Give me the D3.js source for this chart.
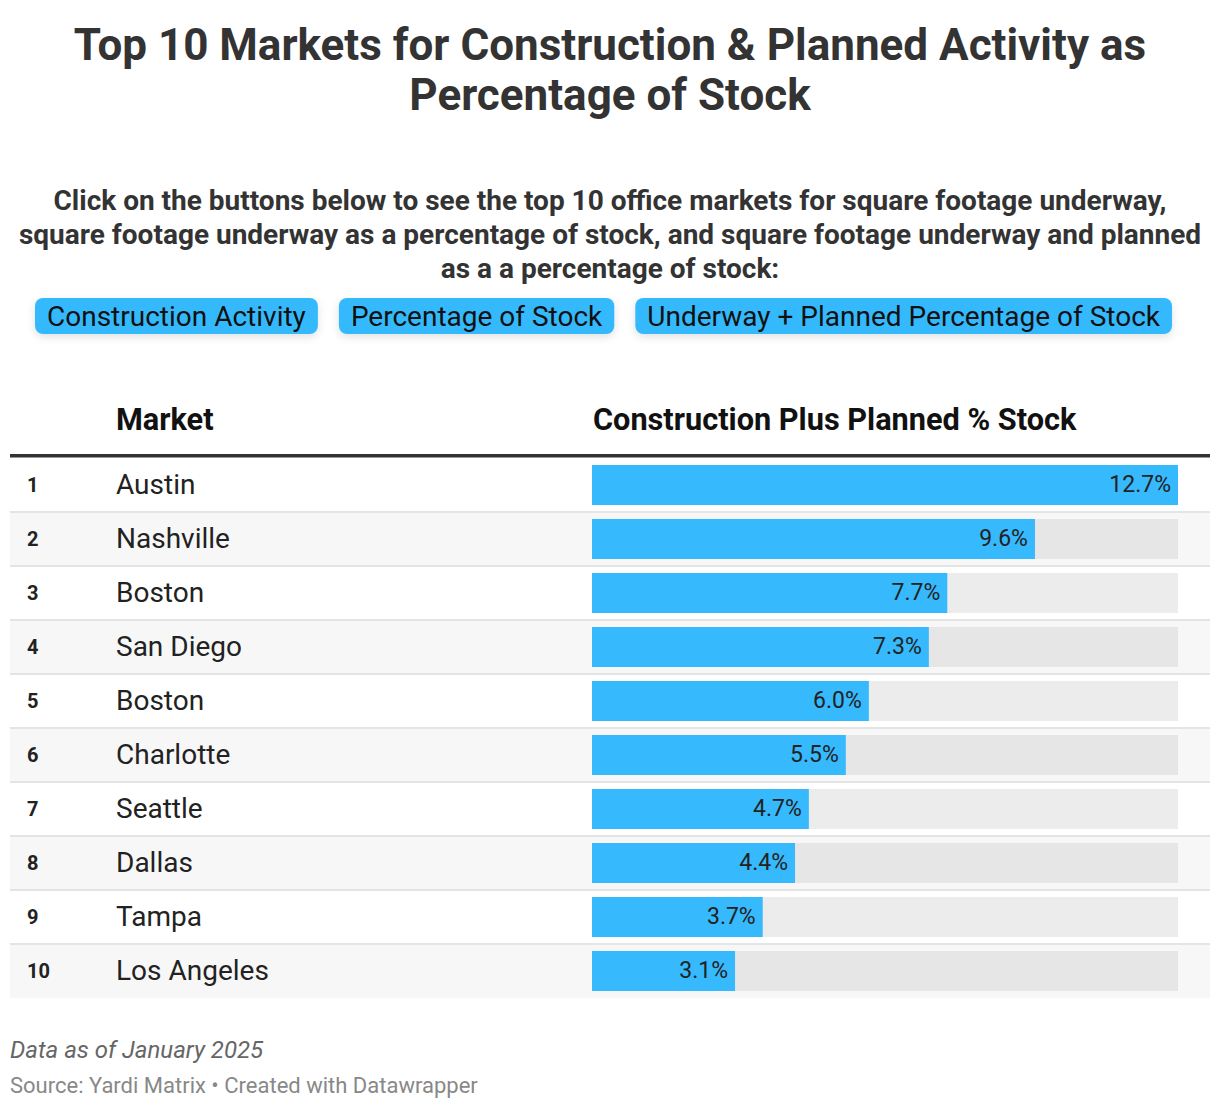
<!DOCTYPE html>
<html>
<head>
<meta charset="utf-8">
<script src="https://cdn.jsdelivr.net/npm/d3@7"></script>
<style>
  body { margin: 0; background: #fff; font-family: Roboto, "Noto Sans", sans-serif; }
</style>
</head>
<body>
<div id="chart"></div>
<script>
var ranks = [1, 2, 3, 4, 5, 6, 7, 8, 9, 10];
var markets = ["Austin", "Nashville", "Boston", "San Diego", "Boston", "Charlotte", "Seattle", "Dallas", "Tampa", "Los Angeles"];
var values = [12.7, 9.6, 7.7, 7.3, 6.0, 5.5, 4.7, 4.4, 3.7, 3.1];
var buttons = ["Construction Activity", "Percentage of Stock", "Underway + Planned Percentage of Stock"];
var titleLines = ["Top 10 Markets for Construction & Planned Activity as", "Percentage of Stock"];
var descLines = [
  "Click on the buttons below to see the top 10 office markets for square footage underway,",
  "square footage underway as a percentage of stock, and square footage underway and planned",
  "as a a percentage of stock:"
];

var W = 1220, H = 1110;
var svg = d3.select("#chart").append("svg").attr("width", W).attr("height", H);

var defs = svg.append("defs");
var f = defs.append("filter").attr("id", "shadow").attr("x", "-10%").attr("y", "-40%").attr("width", "120%").attr("height", "200%");
f.append("feDropShadow").attr("dx", 0).attr("dy", 3).attr("stdDeviation", 4).attr("flood-color", "#000").attr("flood-opacity", 0.12);

// title
svg.selectAll("text.title").data(titleLines).enter().append("text")
  .attr("class", "title")
  .attr("x", W / 2).attr("y", function (d, i) { return 60 + i * 50; })
  .attr("text-anchor", "middle")
  .attr("font-size", 44).attr("font-weight", 700).attr("fill", "#333")
  .text(function (d) { return d; });

svg.selectAll("text.desc").data(descLines).enter().append("text")
  .attr("class", "desc")
  .attr("x", W / 2).attr("y", function (d, i) { return 210 + i * 34; })
  .attr("text-anchor", "middle")
  .attr("font-size", 28).attr("font-weight", 700).attr("fill", "#333")
  .text(function (d) { return d; });

// buttons
var bx = 35, gap = 21;
buttons.forEach(function (b) {
  var g = svg.append("g");
  var t = g.append("text").attr("y", 326).attr("font-size", 28).attr("fill", "#111").text(b);
  var w = t.node().getComputedTextLength() + 24;
  g.insert("rect", "text").attr("x", bx).attr("y", 298).attr("width", w).attr("height", 36)
    .attr("rx", 8).attr("fill", "#36b9fd").attr("filter", "url(#shadow)");
  t.attr("x", bx + 12);
  bx += w + gap;
});

// table
var left = 10, right = 1210;
var y = d3.scaleBand().domain(ranks).range([458, 998]);
var x = d3.scaleLinear().domain([0, d3.max(values)]).range([592, 1178]);

svg.append("text").attr("x", 116).attr("y", 430).attr("font-size", 30.7).attr("font-weight", 700).attr("fill", "#111").text("Market");
svg.append("text").attr("x", 593).attr("y", 430).attr("font-size", 30.7).attr("font-weight", 700).attr("fill", "#111").text("Construction Plus Planned % Stock");

var rows = svg.selectAll("g.row").data(ranks).enter().append("g").attr("class", "row");

rows.append("rect")
  .attr("x", left).attr("width", right - left)
  .attr("y", function (d) { return y(d); }).attr("height", y.bandwidth())
  .attr("fill", function (d, i) { return i % 2 ? "#f7f7f7" : "#fff"; });

rows.filter(function (d, i) { return i > 0; }).append("rect")
  .attr("x", left).attr("width", right - left)
  .attr("y", function (d) { return y(d) - 1; }).attr("height", 2)
  .attr("fill", "#e4e4e4");

rows.append("rect")
  .attr("x", x(0)).attr("width", x(d3.max(values)) - x(0))
  .attr("y", function (d) { return y(d) + 7; }).attr("height", 40)
  .attr("fill", function (d, i) { return i % 2 ? "#e6e6e6" : "#ececec"; });

rows.append("rect")
  .attr("x", x(0)).attr("width", function (d, i) { return x(values[i]) - x(0); })
  .attr("y", function (d) { return y(d) + 7; }).attr("height", 40)
  .attr("fill", "#36b9fd");

rows.append("text")
  .attr("x", function (d, i) { return x(values[i]) - 7; })
  .attr("y", function (d) { return y(d) + 34; })
  .attr("text-anchor", "end").attr("font-size", 23).attr("fill", "#222")
  .text(function (d, i) { return values[i].toFixed(1) + "%"; });

rows.append("text")
  .attr("x", 27).attr("y", function (d) { return y(d) + 34; })
  .attr("font-size", 20).attr("font-weight", 700).attr("fill", "#222")
  .text(function (d) { return d; });

rows.append("text")
  .attr("x", 116).attr("y", function (d) { return y(d) + 36; })
  .attr("font-size", 28).attr("fill", "#222")
  .text(function (d, i) { return markets[i]; });

svg.append("rect").attr("x", left).attr("width", right - left).attr("y", 454).attr("height", 3.5).attr("fill", "#333");

// footer
svg.append("text").attr("x", 10).attr("y", 1058).attr("font-size", 24).attr("font-style", "italic").attr("fill", "#666").text("Data as of January 2025");
svg.append("text").attr("x", 10).attr("y", 1093).attr("font-size", 22).attr("fill", "#888").text("Source: Yardi Matrix \u2022 Created with Datawrapper");
</script>
</body>
</html>
